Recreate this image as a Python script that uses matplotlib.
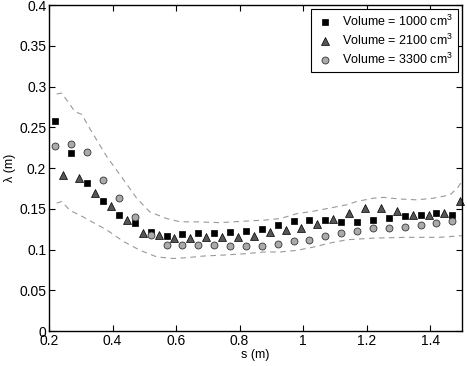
import matplotlib
matplotlib.use('Agg')
import matplotlib.pyplot as plt

plt.rcParams['font.family'] = ['Liberation Sans', 'DejaVu Sans']
plt.rcParams['mathtext.fontset'] = 'custom'
plt.rcParams['mathtext.rm'] = 'Liberation Sans'

# squares and circles share x positions, triangles are shifted by 0.025
s_a = [0.22 + 0.05 * i for i in range(26)]
s_b = [0.245 + 0.05 * i for i in range(26)]

vol_1000 = [0.258, 0.218, 0.182, 0.160, 0.143, 0.132, 0.121, 0.117, 0.119, 0.120,
            0.120, 0.121, 0.123, 0.125, 0.130, 0.135, 0.136, 0.136, 0.134, 0.134,
            0.136, 0.139, 0.141, 0.142, 0.145, 0.143]
vol_2100 = [0.191, 0.188, 0.169, 0.153, 0.136, 0.120, 0.118, 0.114, 0.114, 0.116,
            0.116, 0.116, 0.117, 0.122, 0.124, 0.126, 0.131, 0.137, 0.145, 0.151,
            0.151, 0.147, 0.143, 0.142, 0.145, 0.160]
vol_3300 = [0.227, 0.229, 0.220, 0.185, 0.163, 0.140, 0.118, 0.106, 0.105, 0.105,
            0.105, 0.104, 0.104, 0.104, 0.107, 0.110, 0.112, 0.117, 0.120, 0.123,
            0.126, 0.127, 0.128, 0.130, 0.132, 0.135]

# envelope curves (dashed)
up_s = [0.224, 0.240, 0.282, 0.303, 0.329, 0.382, 0.434, 0.476, 0.518, 0.571,
        0.613, 0.665, 0.739, 0.823, 0.875, 0.928, 0.980, 1.032, 1.085, 1.138,
        1.169, 1.221, 1.253, 1.306, 1.358, 1.410, 1.463, 1.489, 1.5]
up_l = [0.291, 0.292, 0.269, 0.266, 0.248, 0.214, 0.186, 0.163, 0.146, 0.138,
        0.134, 0.134, 0.133, 0.135, 0.136, 0.138, 0.144, 0.147, 0.151, 0.155,
        0.159, 0.163, 0.164, 0.162, 0.161, 0.163, 0.167, 0.177, 0.184]
lo_s = [0.224, 0.240, 0.266, 0.298, 0.340, 0.382, 0.434, 0.487, 0.539, 0.591,
        0.634, 0.686, 0.739, 0.823, 0.875, 0.928, 0.980, 1.032, 1.085, 1.138,
        1.221, 1.327, 1.431, 1.5]
lo_l = [0.157, 0.159, 0.148, 0.142, 0.133, 0.124, 0.110, 0.099, 0.091, 0.089,
        0.090, 0.092, 0.093, 0.095, 0.097, 0.097, 0.099, 0.103, 0.108, 0.112,
        0.114, 0.115, 0.115, 0.117]

labels = ['Volume = 1000 cm$^3$', 'Volume = 2100 cm$^3$', 'Volume = 3300 cm$^3$']

fig = plt.figure(figsize=(4.67, 3.66), dpi=100)
ax = fig.add_axes([0.105, 0.0956, 0.884, 0.8904])

ax.plot(up_s, up_l, '--', color='#999999', lw=0.8, dashes=(5, 4))
ax.plot(lo_s, lo_l, '--', color='#999999', lw=0.8, dashes=(5, 4))

ax.plot(s_a, vol_1000, 's', color='black', ms=4.5, mec='black', mew=0.5, label=labels[0], clip_on=False)
ax.plot(s_b, vol_2100, '^', color='#555555', ms=5.5, mec='black', mew=0.5, label=labels[1], clip_on=False)
ax.plot(s_a, vol_3300, 'o', color='#aaaaaa', ms=5, mec='#333333', mew=0.6, label=labels[2], clip_on=False)

ax.set_xlim(0.2, 1.5)
ax.set_ylim(0, 0.4)
ax.set_xticks([0.2, 0.4, 0.6, 0.8, 1.0, 1.2, 1.4])
ax.set_xticklabels(['0.2', '0.4', '0.6', '0.8', '1', '1.2', '1.4'])
ax.set_yticks([0, 0.05, 0.1, 0.15, 0.2, 0.25, 0.3, 0.35, 0.4])
ax.set_yticklabels(['0', '0.05', '0.1', '0.15', '0.2', '0.25', '0.3', '0.35', '0.4'])
ax.tick_params(direction='in', top=True, right=True, labelsize=10, length=4, pad=2)
for sp in ax.spines.values():
    sp.set_linewidth(1.0)

ax.set_xlabel('s (m)', fontsize=9, labelpad=1)
ax.set_ylabel('λ (m)', fontsize=9, labelpad=2)

leg = ax.legend(loc='upper right', fontsize=9, fancybox=False, edgecolor='black',
                framealpha=1, handletextpad=0.6, borderaxespad=0.3, labelspacing=0.3,
                handlelength=1.5, borderpad=0.4)
leg.get_frame().set_linewidth(0.8)

plt.savefig('out.png', dpi=100)
plt.close()
